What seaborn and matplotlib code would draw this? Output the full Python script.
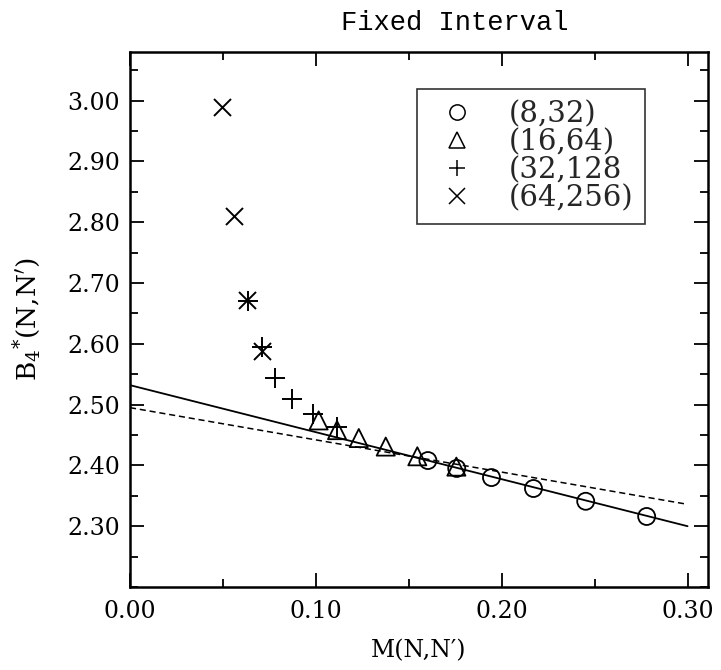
import numpy as np
import pandas as pd
import matplotlib
matplotlib.use("Agg")
import matplotlib.pyplot as plt
from matplotlib.lines import Line2D
from matplotlib.ticker import MultipleLocator, FixedLocator, FormatStrFormatter
import seaborn as sns

# ---- data ----
labels = ["(8,32)", "(16,64)", "(32,128", "(64,256)"]
m_8_32 = [0.1603, 0.1758, 0.1945, 0.2171, 0.2452, 0.2780]
b4_8_32 = [2.408, 2.395, 2.380, 2.362, 2.341, 2.316]
m_16_64 = [0.1015, 0.1114, 0.1231, 0.1376, 0.1546, 0.1756]
b4_16_64 = [2.474, 2.458, 2.445, 2.431, 2.415, 2.398]
m_32_128 = [0.0637, 0.0710, 0.0781, 0.0874, 0.0984, 0.1114]
b4_32_128 = [2.670, 2.595, 2.543, 2.510, 2.485, 2.463]
m_64_256 = [0.0497, 0.0557, 0.0629, 0.0710]
b4_64_256 = [2.990, 2.811, 2.672, 2.589]
fit_m = [0.0, 0.30]
fit_solid = [2.532, 2.300]
fit_dashed = [2.495, 2.336]
x_ticks = [0.00, 0.10, 0.20, 0.30]
y_ticks = [2.30, 2.40, 2.50, 2.60, 2.70, 2.80, 2.90, 3.00]

sns.set_theme(style="ticks")
plt.rcParams['font.family'] = ['DejaVu Serif']
plt.rcParams['mathtext.fontset'] = 'dejavuserif'

fig = plt.figure(figsize=(7.21, 6.70), dpi=100)
ax = fig.add_axes([130/721, 83/670, 578/721, 535/670])

series = [
    (m_8_32, b4_8_32, 'o', 150),
    (m_16_64, b4_16_64, '^', 170),
    (m_32_128, b4_32_128, '+', 200),
    (m_64_256, b4_64_256, 'x', 150),
]
for (mx, my, mk, s), lab in zip(series, labels):
    df = pd.DataFrame({"M": mx, "B4": my})
    if mk in ('+', 'x'):
        sns.scatterplot(data=df, x="M", y="B4", marker=mk, s=s, color='black',
                        linewidth=1.4, ax=ax, legend=False)
    else:
        sns.scatterplot(data=df, x="M", y="B4", marker=mk, s=s, facecolor='none',
                        edgecolor='black', linewidth=1.3, ax=ax, legend=False)

lf = pd.DataFrame({"M": fit_m, "solid": fit_solid, "dashed": fit_dashed})
sns.lineplot(data=lf, x="M", y="solid", color='black', lw=1.3, ax=ax)
sns.lineplot(data=lf, x="M", y="dashed", color='black', lw=1.1, ax=ax,
             linestyle=(0, (4, 2.5)))

ax.set_xlim(0, 0.311)
ax.set_ylim(2.20, 3.08)
ax.xaxis.set_major_locator(FixedLocator(x_ticks))
ax.xaxis.set_minor_locator(MultipleLocator(0.05))
ax.yaxis.set_major_locator(FixedLocator(y_ticks))
ax.yaxis.set_minor_locator(MultipleLocator(0.05))
ax.xaxis.set_major_formatter(FormatStrFormatter('%.2f'))
ax.yaxis.set_major_formatter(FormatStrFormatter('%.2f'))
ax.tick_params(which='both', direction='in', top=True, right=True, width=1.3,
               colors='black', labelsize=17)
ax.tick_params(which='major', length=10, pad=7)
ax.tick_params(which='minor', length=6)
ax.tick_params(axis='x', which='major', pad=9)
for sp in ax.spines.values():
    sp.set_linewidth(1.8)
    sp.set_color('black')

ax.set_xlabel("M(N,N\u2032)", fontsize=17, color='black')
ax.set_ylabel(r"B$_{4}$$^{*}$(N,N$'$)", fontsize=19, color='black')
ax.xaxis.set_label_coords(0.5, -0.097)
ax.yaxis.set_label_coords(-0.150, 0.5)

fig.text(455/721, 1 - 23/670, "Fixed Interval", ha='center', va='center',
         fontsize=19.5, color='black', family='Liberation Mono')

handles = [
    Line2D([], [], ls='none', marker='o', mfc='none', mec='black', ms=11, mew=1.1),
    Line2D([], [], ls='none', marker='^', mfc='none', mec='black', ms=11, mew=1.1),
    Line2D([], [], ls='none', marker='+', color='black', ms=12, mew=1.1),
    Line2D([], [], ls='none', marker='x', color='black', ms=11, mew=1.1),
]
leg = ax.legend(handles, labels, loc='upper left', bbox_to_anchor=(0.497, 0.931),
                frameon=True, fancybox=False, edgecolor='black', fontsize=21,
                handletextpad=0.83, labelspacing=0.0, borderpad=0.4,
                handlelength=1.9, borderaxespad=0)
leg.get_frame().set_linewidth(1.2)

fig.savefig("out.png", dpi=100)
